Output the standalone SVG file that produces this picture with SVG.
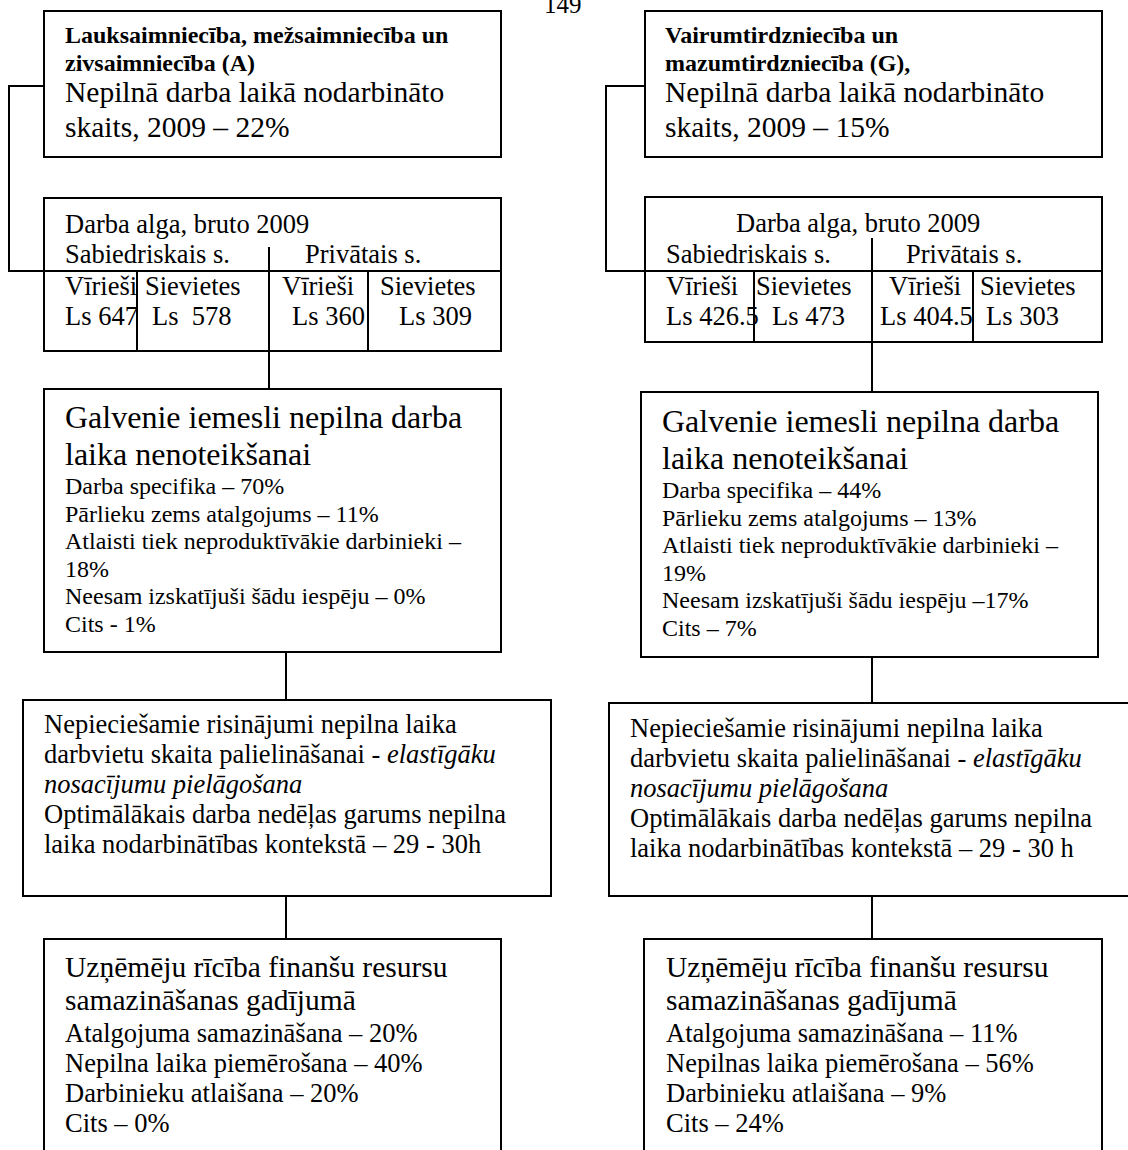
<svg xmlns="http://www.w3.org/2000/svg" width="1128" height="1150" viewBox="0 0 1128 1150">
<style>
.box{fill:#fff;stroke:#000;stroke-width:2}
.ln{fill:none;stroke:#000;stroke-width:2}
text{font-family:"Liberation Serif","Times New Roman",serif;fill:#000}
.b{font-size:24px;font-weight:bold}
.big{font-size:29.5px}
.huge{font-size:32px}
.med{font-size:26.5px}
.sm{font-size:24px}
.it{font-style:italic}
</style>
<rect width="1128" height="1150" fill="#fff"/>
<text x="544" y="13" style="font-size:25px">149</text>

<g id="connectors">
  <path class="ln" d="M44,86 H9 V271 H501"/>
  <path class="ln" d="M645,86 H606 V271 H1102"/>
  <path class="ln" d="M269,247 V389"/>
  <path class="ln" d="M872,238 V392"/>
  <path class="ln" d="M286,652 V700"/>
  <path class="ln" d="M872,657 V703"/>
  <path class="ln" d="M286,896 V939"/>
  <path class="ln" d="M872,896 V939"/>
</g>

<g id="nodeA">
  <rect class="box" x="44" y="11" width="457" height="146"/>
  <text class="b" x="65" y="43">Lauksaimniecība, mežsaimniecība un</text>
  <text class="b" x="65" y="71">zivsaimniecība (A)</text>
  <text class="big" x="65" y="102">Nepilnā darba laikā nodarbināto</text>
  <text class="big" x="65" y="137">skaits, 2009 – 22%</text>
</g>

<g id="nodeG">
  <rect class="box" x="645" y="11" width="457" height="146"/>
  <text class="b" x="665" y="43">Vairumtirdzniecība un</text>
  <text class="b" x="665" y="71">mazumtirdzniecība (G),</text>
  <text class="big" x="665" y="102">Nepilnā darba laikā nodarbināto</text>
  <text class="big" x="665" y="137">skaits, 2009 – 15%</text>
</g>

<g id="wageA">
  <path class="box" d="M44,198 H501 V351 H44 Z"/>
  <path class="ln" d="M44,271 H501 M137,271 V351 M368,271 V351 M269,247 V351"/>
  <text class="med" x="65" y="233">Darba alga, bruto 2009</text>
  <text class="med" x="65" y="263">Sabiedriskais s.</text>
  <text class="med" x="305" y="263">Privātais s.</text>
  <text class="med" x="65" y="295">Vīrieši</text>
  <text class="med" x="145" y="295">Sievietes</text>
  <text class="med" x="282" y="295">Vīrieši</text>
  <text class="med" x="380" y="295">Sievietes</text>
  <text class="med" x="65" y="325">Ls 647</text>
  <text class="med" x="152" y="325" xml:space="preserve">Ls  578</text>
  <text class="med" x="292" y="325">Ls 360</text>
  <text class="med" x="399" y="325">Ls 309</text>
</g>

<g id="wageG">
  <path class="box" d="M645,197 H1102 V342 H645 Z"/>
  <path class="ln" d="M645,271 H1102 M754,271 V342 M973,271 V342 M872,238 V342"/>
  <text class="med" x="736" y="232">Darba alga, bruto 2009</text>
  <text class="med" x="666" y="263">Sabiedriskais s.</text>
  <text class="med" x="906" y="263">Privātais s.</text>
  <text class="med" x="666" y="295">Vīrieši</text>
  <text class="med" x="756" y="295">Sievietes</text>
  <text class="med" x="889" y="295">Vīrieši</text>
  <text class="med" x="980" y="295">Sievietes</text>
  <text class="med" x="666" y="325">Ls 426.5</text>
  <text class="med" x="772" y="325">Ls 473</text>
  <text class="med" x="880" y="325">Ls 404.5</text>
  <text class="med" x="986" y="325">Ls 303</text>
</g>

<g id="reasonsA">
  <rect class="box" x="44" y="389" width="457" height="263"/>
  <text class="huge" x="65" y="428">Galvenie iemesli nepilna darba</text>
  <text class="huge" x="65" y="465">laika nenoteikšanai</text>
  <text class="sm" x="65" y="494">Darba specifika – 70%</text>
  <text class="sm" x="65" y="522">Pārlieku zems atalgojums – 11%</text>
  <text class="sm" x="65" y="549">Atlaisti tiek neproduktīvākie darbinieki –</text>
  <text class="sm" x="65" y="577">18%</text>
  <text class="sm" x="65" y="604">Neesam izskatījuši šādu iespēju – 0%</text>
  <text class="sm" x="65" y="632">Cits - 1%</text>
</g>

<g id="reasonsG">
  <rect class="box" x="641" y="392" width="457" height="265"/>
  <text class="huge" x="662" y="432">Galvenie iemesli nepilna darba</text>
  <text class="huge" x="662" y="469">laika nenoteikšanai</text>
  <text class="sm" x="662" y="498">Darba specifika – 44%</text>
  <text class="sm" x="662" y="526">Pārlieku zems atalgojums – 13%</text>
  <text class="sm" x="662" y="553">Atlaisti tiek neproduktīvākie darbinieki –</text>
  <text class="sm" x="662" y="581">19%</text>
  <text class="sm" x="662" y="608">Neesam izskatījuši šādu iespēju –17%</text>
  <text class="sm" x="662" y="636">Cits – 7%</text>
</g>

<g id="solutionsA">
  <rect class="box" x="23" y="700" width="528" height="196"/>
  <text class="med" x="44" y="733">Nepieciešamie risinājumi nepilna laika</text>
  <text class="med" x="44" y="763">darbvietu skaita palielināšanai - <tspan class="it">elastīgāku</tspan></text>
  <text class="med it" x="44" y="793">nosacījumu pielāgošana</text>
  <text class="med" x="44" y="823">Optimālākais darba nedēļas garums nepilna</text>
  <text class="med" x="44" y="853">laika nodarbinātības kontekstā – 29 - 30h</text>
</g>

<g id="solutionsG">
  <rect class="box" x="609" y="703" width="540" height="193"/>
  <text class="med" x="630" y="737">Nepieciešamie risinājumi nepilna laika</text>
  <text class="med" x="630" y="767">darbvietu skaita palielināšanai - <tspan class="it">elastīgāku</tspan></text>
  <text class="med it" x="630" y="797">nosacījumu pielāgošana</text>
  <text class="med" x="630" y="827">Optimālākais darba nedēļas garums nepilna</text>
  <text class="med" x="630" y="857">laika nodarbinātības kontekstā – 29 - 30 h</text>
</g>

<g id="actionsA">
  <rect class="box" x="44" y="939" width="457" height="260"/>
  <text class="big" x="65" y="977">Uzņēmēju rīcība finanšu resursu</text>
  <text class="big" x="65" y="1010">samazināšanas gadījumā</text>
  <text class="med" x="65" y="1042">Atalgojuma samazināšana – 20%</text>
  <text class="med" x="65" y="1072">Nepilna laika piemērošana – 40%</text>
  <text class="med" x="65" y="1102">Darbinieku atlaišana – 20%</text>
  <text class="med" x="65" y="1132">Cits – 0%</text>
</g>

<g id="actionsG">
  <rect class="box" x="644" y="939" width="458" height="260"/>
  <text class="big" x="666" y="977">Uzņēmēju rīcība finanšu resursu</text>
  <text class="big" x="666" y="1010">samazināšanas gadījumā</text>
  <text class="med" x="666" y="1042">Atalgojuma samazināšana – 11%</text>
  <text class="med" x="666" y="1072">Nepilnas laika piemērošana – 56%</text>
  <text class="med" x="666" y="1102">Darbinieku atlaišana – 9%</text>
  <text class="med" x="666" y="1132">Cits – 24%</text>
</g>
</svg>
